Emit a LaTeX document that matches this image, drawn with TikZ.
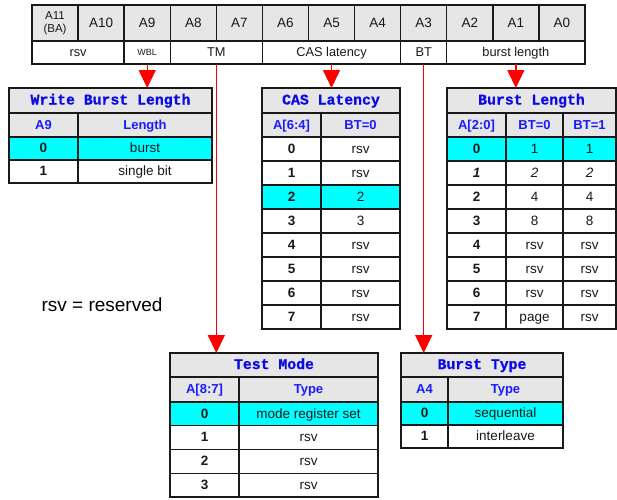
\documentclass[tikz,border=0pt]{standalone}
\usepackage{fontspec}
\setmainfont{Liberation Sans}
\newfontfamily\titlefont{Liberation Mono}[BoldFeatures={FakeBold=0.8}]
\usetikzlibrary{arrows.meta}
\definecolor{regGray}{HTML}{E6E6E6}
\definecolor{hiCyan}{HTML}{00FFFF}
\definecolor{hdrBlue}{HTML}{1A1AFF}
\definecolor{ttlBlue}{HTML}{0A0AE6}
\tikzset{
  cell/.style={draw=black!90, line width=1.4pt, inner sep=0pt, outer sep=0pt, anchor=north west, text=black!90, text height=9.6pt, text depth=1pt},
  regcell/.style={cell, fill=regGray, minimum width=46.08pt, minimum height=36pt, font=\fontsize{13.5}{14}\selectfont},
  fieldcell/.style={cell, fill=white, minimum height=23pt, font=\fontsize{12.8}{14}\selectfont},
  ttl/.style={cell, fill=regGray, text=ttlBlue, font=\titlefont\bfseries\fontsize{14.8}{16}\selectfont, text height=10pt, text depth=2pt},
  hdr/.style={cell, fill=regGray, text=hdrBlue, font=\bfseries\fontsize{13}{14}\selectfont},
  body/.style={cell, font=\fontsize{13.5}{14}\selectfont},
  keycell/.style={body, font=\bfseries\fontsize{13.5}{14}\selectfont},
  frame/.style={draw=black!90, line width=2pt},
  conn/.style={draw=red, line width=1.4pt, -{Triangle[width=17pt,length=18pt]}},
}
\begin{document}
\begin{tikzpicture}[x=1pt,y=-1pt]
\useasboundingbox (0,0) rectangle (617,499);

\node[regcell, align=center, text height=, text depth=, font=\fontsize{11.5}{13}\selectfont] (a11) at (32,5) {A11\\(BA)};
\foreach \lbl [count=\i] in {A10,A9,A8,A7,A6,A5,A4,A3,A2,A1,A0}{
  \pgfmathtruncatemacro\bit{11-\i}
  \node[regcell] (a\bit) at (32+46.08*\i,5) {\lbl};
}

\node[fieldcell, minimum width=92.16pt] (rsv) at (32,41) {rsv};
\node[fieldcell, minimum width=46.08pt, font=\fontsize{9}{10}\selectfont, text height=6.5pt, text depth=1pt] (wbl) at (124.16,41) {WBL};
\node[fieldcell, minimum width=92.16pt] (tm) at (170.24,41) {TM};
\node[fieldcell, minimum width=138.24pt] (cas) at (262.4,41) {CAS latency};
\node[fieldcell, minimum width=46.08pt] (bt) at (400.64,41) {BT};
\node[fieldcell, minimum width=138.24pt] (bl) at (446.72,41) {burst length};

% Write Burst Length
\node[ttl, minimum width=203pt, minimum height=25pt] (wblT) at (9,88) {Write Burst Length};
\node[hdr, minimum width=69pt, minimum height=24pt] (wblH1) at (9,113) {A9};
\node[hdr, minimum width=134pt, minimum height=24pt] (wblH2) at (78,113) {Length};
\foreach \v/\f [count=\i from 0] in {burst/hiCyan, single bit/white}{
  \node[keycell, fill=\f, minimum width=69pt, minimum height=23pt] (wblK\i) at (9,137+23*\i) {\i};
  \node[body, fill=\f, minimum width=134pt, minimum height=23pt] (wblV\i) at (78,137+23*\i) {\v};
}
\draw[frame] (wblT.north west) rectangle (wblV1.south east);

% CAS Latency
\node[ttl, minimum width=138pt, minimum height=25pt] (casT) at (262,88) {CAS Latency};
\node[hdr, minimum width=59pt, minimum height=24pt] (casH1) at (262,113) {A[6:4]};
\node[hdr, minimum width=79pt, minimum height=24pt] (casH2) at (321,113) {BT=0};
\foreach \v/\f [count=\i from 0] in {rsv/white, rsv/white, 2/hiCyan, 3/white, rsv/white, rsv/white, rsv/white, rsv/white}{
  \node[keycell, fill=\f, minimum width=59pt, minimum height=24pt] (casK\i) at (262,137+24*\i) {\i};
  \node[body, fill=\f, minimum width=79pt, minimum height=24pt] (casV\i) at (321,137+24*\i) {\v};
}
\draw[frame] (casT.north west) rectangle (casV7.south east);

% Burst Length
\node[ttl, minimum width=169pt, minimum height=25pt] (blT) at (447,88) {Burst Length};
\node[hdr, minimum width=59pt, minimum height=24pt] (blH1) at (447,113) {A[2:0]};
\node[hdr, minimum width=57pt, minimum height=24pt] (blH2) at (506,113) {BT=0};
\node[hdr, minimum width=53pt, minimum height=24pt] (blH3) at (563,113) {BT=1};
\foreach \k/\v/\w/\f [count=\i from 0] in {0/1/1/hiCyan, {\itshape 1}/{\itshape 2}/{\itshape 2}/white, 2/4/4/white, 3/8/8/white, 4/rsv/rsv/white, 5/rsv/rsv/white, 6/rsv/rsv/white, 7/page/rsv/white}{
  \node[keycell, fill=\f, minimum width=59pt, minimum height=24pt] (blK\i) at (447,137+24*\i) {\k};
  \node[body, fill=\f, minimum width=57pt, minimum height=24pt] (blV\i) at (506,137+24*\i) {\v};
  \node[body, fill=\f, minimum width=53pt, minimum height=24pt] (blW\i) at (563,137+24*\i) {\w};
}
\draw[frame] (blT.north west) rectangle (blW7.south east);

% Test Mode
\node[ttl, minimum width=208pt, minimum height=24pt] (tmT) at (170,353) {Test Mode};
\node[hdr, minimum width=69pt, minimum height=25pt] (tmH1) at (170,377) {A[8:7]};
\node[hdr, minimum width=139pt, minimum height=25pt] (tmH2) at (239,377) {Type};
\foreach \v/\f [count=\i from 0] in {mode register set/hiCyan, rsv/white, rsv/white, rsv/white}{
  \node[keycell, fill=\f, minimum width=69pt, minimum height=23.75pt] (tmK\i) at (170,402+23.75*\i) {\i};
  \node[body, fill=\f, minimum width=139pt, minimum height=23.75pt] (tmV\i) at (239,402+23.75*\i) {\v};
}
\draw[frame] (tmT.north west) rectangle (tmV3.south east);

% Burst Type
\node[ttl, minimum width=162pt, minimum height=24pt] (btT) at (401,353) {Burst Type};
\node[hdr, minimum width=47pt, minimum height=25pt] (btH1) at (401,377) {A4};
\node[hdr, minimum width=115pt, minimum height=25pt] (btH2) at (448,377) {Type};
\foreach \v/\f [count=\i from 0] in {sequential/hiCyan, interleave/white}{
  \node[keycell, fill=\f, minimum width=47pt, minimum height=23pt] (btK\i) at (401,402+23*\i) {\i};
  \node[body, fill=\f, minimum width=115pt, minimum height=23pt] (btV\i) at (448,402+23*\i) {\v};
}
\draw[frame] (btT.north west) rectangle (btV1.south east);

\draw[conn] (wbl.south) -- (wbl.south |- wblT.north);
\draw[conn] (tm.south) -- (tm.south |- tmT.north);
\draw[conn] (cas.south) -- (cas.south |- casT.north);
\draw[conn] (bt.south) -- (bt.south |- btT.north);
\draw[conn] (bl.south) -- (bl.south |- blT.north);

\node[anchor=base west, font=\fontsize{19}{20}\selectfont] (legend) at (38,311) {rsv = reserved};
\end{tikzpicture}
\end{document}
